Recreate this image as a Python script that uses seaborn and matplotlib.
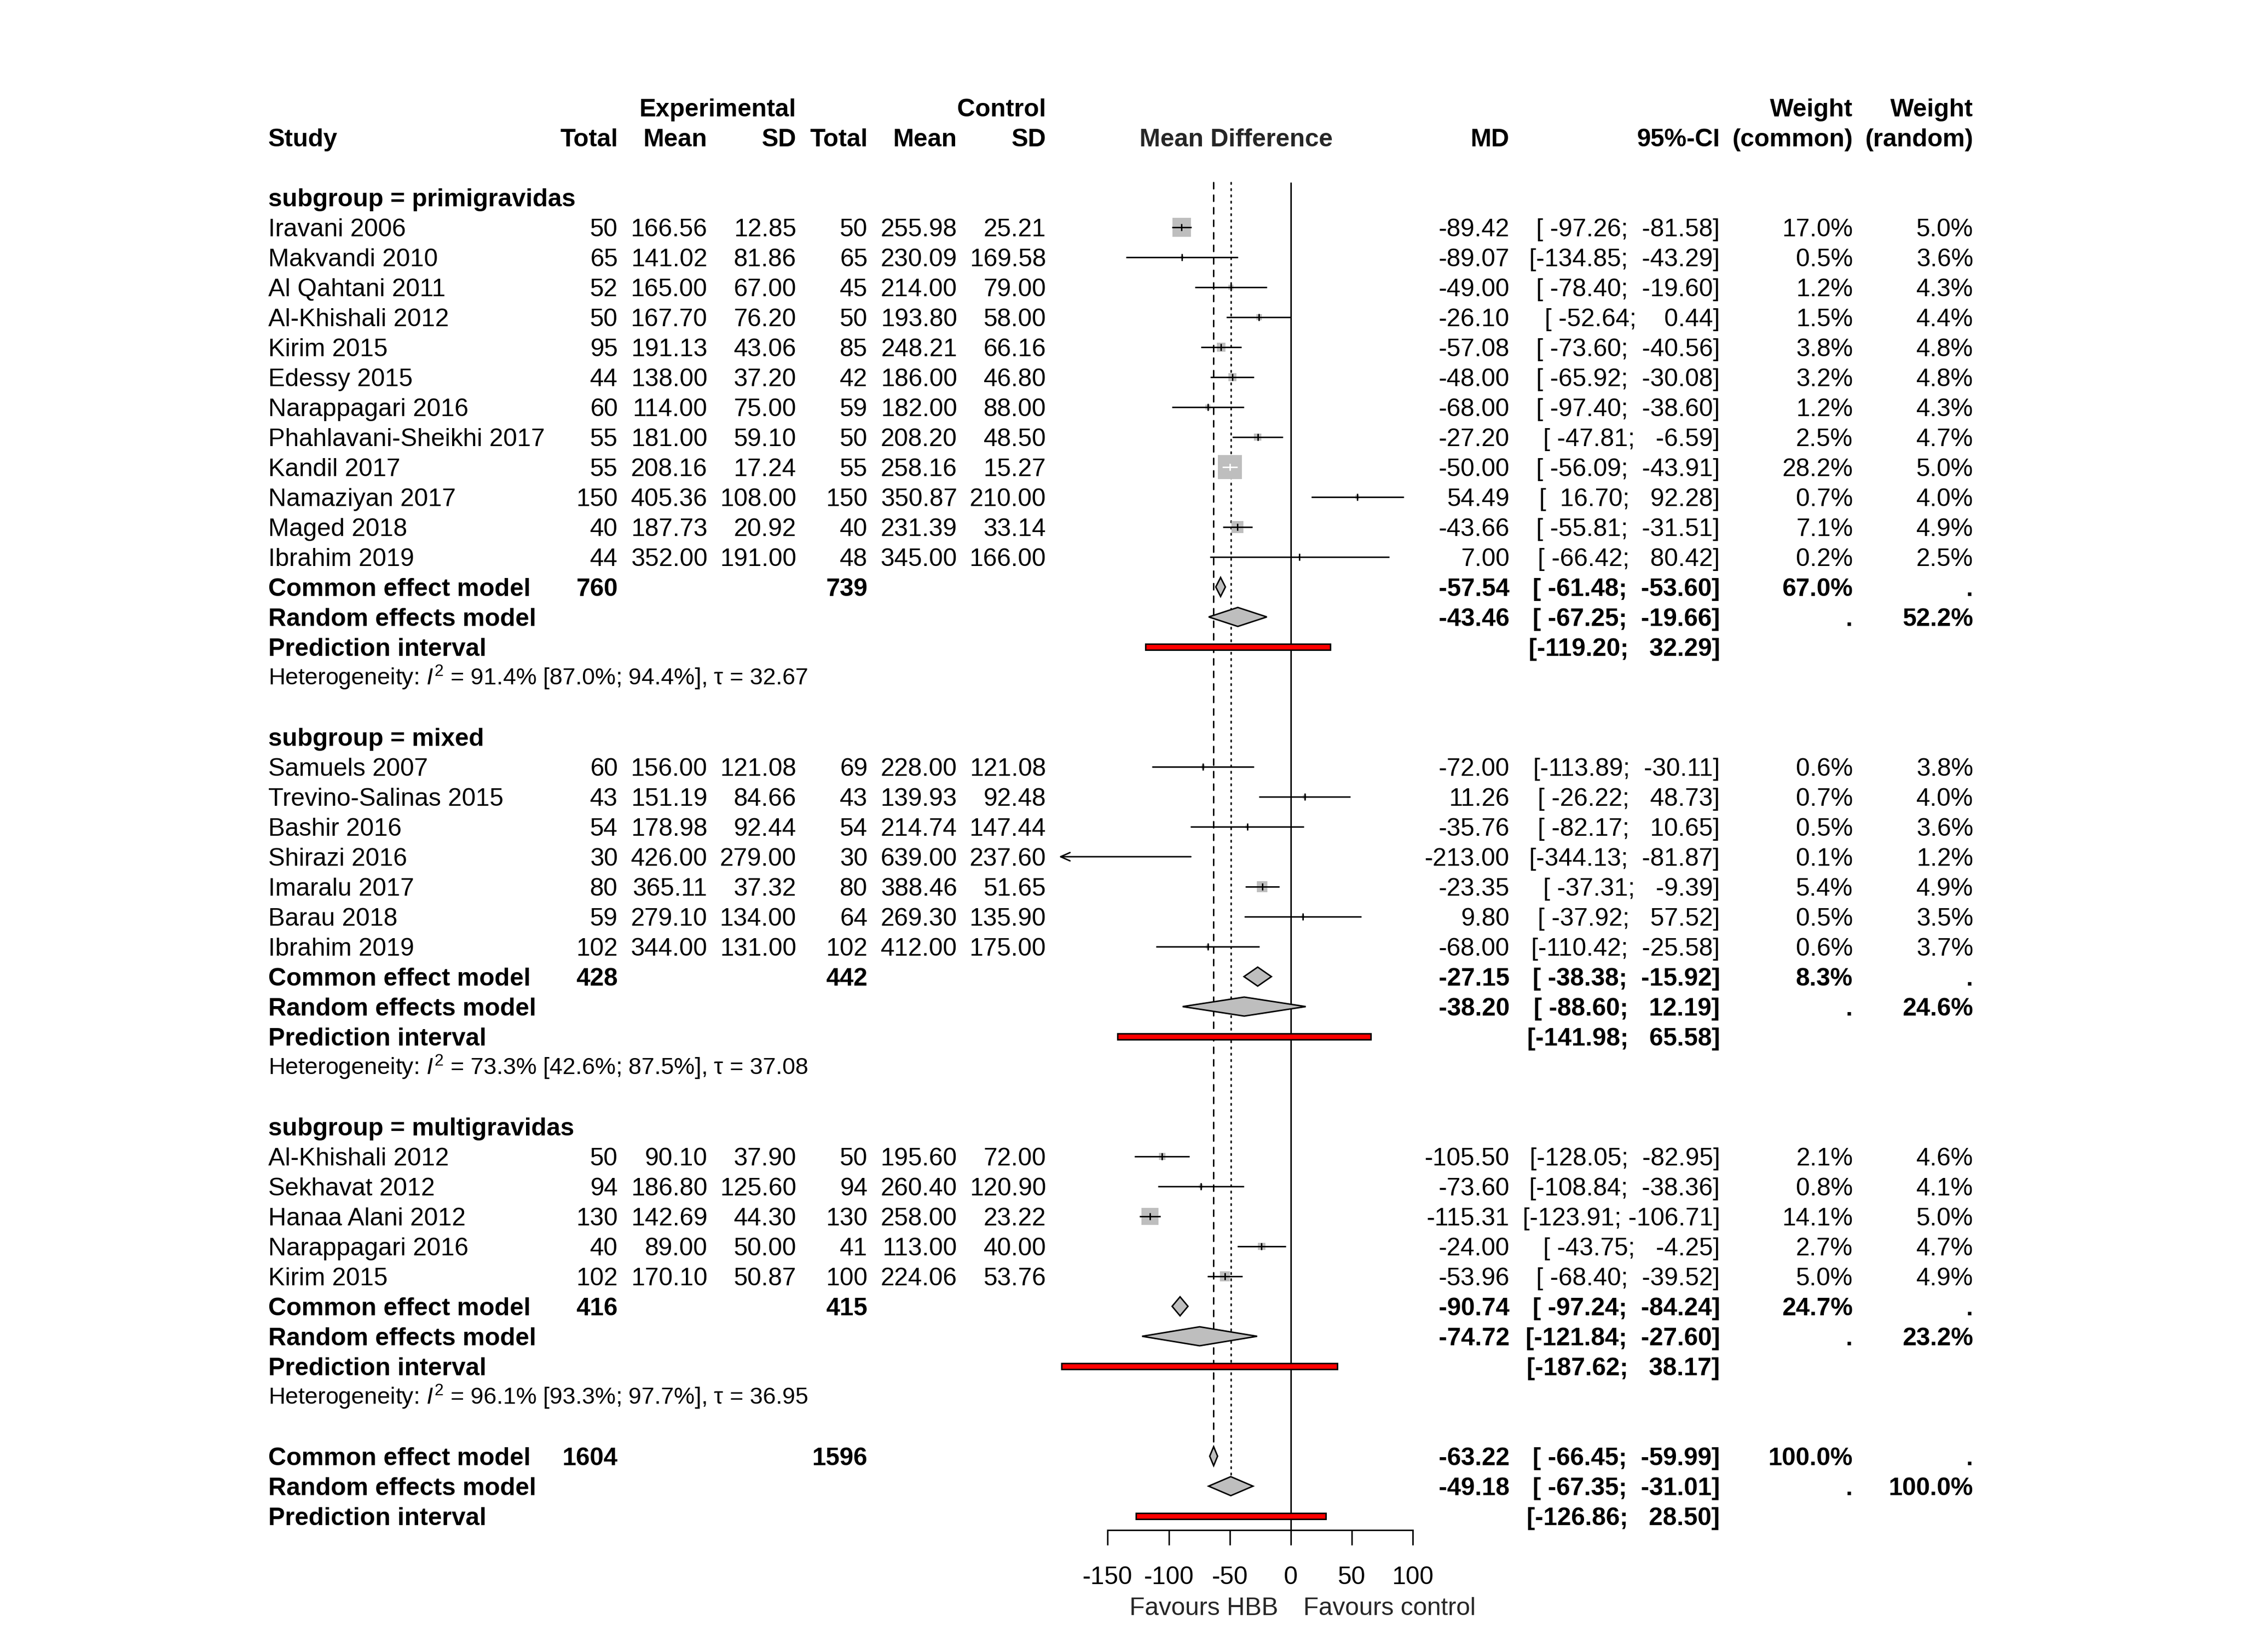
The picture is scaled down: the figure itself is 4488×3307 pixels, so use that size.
import numpy as np
import matplotlib
matplotlib.use("Agg")
import matplotlib.pyplot as plt
from matplotlib.patches import Polygon, Rectangle
import seaborn as sns

# ---- study level data (plotting order) ----
study = ["Iravani 2006", "Makvandi 2010", "Al Qahtani 2011", "Al-Khishali 2012", "Kirim 2015",
         "Edessy 2015", "Narappagari 2016", "Phahlavani-Sheikhi 2017", "Kandil 2017",
         "Namaziyan 2017", "Maged 2018", "Ibrahim 2019",
         "Samuels 2007", "Trevino-Salinas 2015", "Bashir 2016", "Shirazi 2016", "Imaralu 2017",
         "Barau 2018", "Ibrahim 2019",
         "Al-Khishali 2012", "Sekhavat 2012", "Hanaa Alani 2012", "Narappagari 2016", "Kirim 2015"]
subgroup = ["primigravidas", "primigravidas", "primigravidas", "primigravidas", "primigravidas",
            "primigravidas", "primigravidas", "primigravidas", "primigravidas", "primigravidas",
            "primigravidas", "primigravidas",
            "mixed", "mixed", "mixed", "mixed", "mixed", "mixed", "mixed",
            "multigravidas", "multigravidas", "multigravidas", "multigravidas", "multigravidas"]
n_e = [50, 65, 52, 50, 95, 44, 60, 55, 55, 150, 40, 44,
       60, 43, 54, 30, 80, 59, 102,
       50, 94, 130, 40, 102]
mean_e = [166.56, 141.02, 165.00, 167.70, 191.13, 138.00, 114.00, 181.00, 208.16, 405.36, 187.73, 352.00,
          156.00, 151.19, 178.98, 426.00, 365.11, 279.10, 344.00,
          90.10, 186.80, 142.69, 89.00, 170.10]
sd_e = [12.85, 81.86, 67.00, 76.20, 43.06, 37.20, 75.00, 59.10, 17.24, 108.00, 20.92, 191.00,
        121.08, 84.66, 92.44, 279.00, 37.32, 134.00, 131.00,
        37.90, 125.60, 44.30, 50.00, 50.87]
n_c = [50, 65, 45, 50, 85, 42, 59, 50, 55, 150, 40, 48,
       69, 43, 54, 30, 80, 64, 102,
       50, 94, 130, 41, 100]
mean_c = [255.98, 230.09, 214.00, 193.80, 248.21, 186.00, 182.00, 208.20, 258.16, 350.87, 231.39, 345.00,
          228.00, 139.93, 214.74, 639.00, 388.46, 269.30, 412.00,
          195.60, 260.40, 258.00, 113.00, 224.06]
sd_c = [25.21, 169.58, 79.00, 58.00, 66.16, 46.80, 88.00, 48.50, 15.27, 210.00, 33.14, 166.00,
        121.08, 92.48, 147.44, 237.60, 51.65, 135.90, 175.00,
        72.00, 120.90, 23.22, 40.00, 53.76]
md = [-89.42, -89.07, -49.00, -26.10, -57.08, -48.00, -68.00, -27.20, -50.00, 54.49, -43.66, 7.00,
      -72.00, 11.26, -35.76, -213.00, -23.35, 9.80, -68.00,
      -105.50, -73.60, -115.31, -24.00, -53.96]
ci_lo = [-97.26, -134.85, -78.40, -52.64, -73.60, -65.92, -97.40, -47.81, -56.09, 16.70, -55.81, -66.42,
         -113.89, -26.22, -82.17, -344.13, -37.31, -37.92, -110.42,
         -128.05, -108.84, -123.91, -43.75, -68.40]
ci_hi = [-81.58, -43.29, -19.60, 0.44, -40.56, -30.08, -38.60, -6.59, -43.91, 92.28, -31.51, 80.42,
         -30.11, 48.73, 10.65, -81.87, -9.39, 57.52, -25.58,
         -82.95, -38.36, -106.71, -4.25, -39.52]
w_common = [17.0, 0.5, 1.2, 1.5, 3.8, 3.2, 1.2, 2.5, 28.2, 0.7, 7.1, 0.2,
            0.6, 0.7, 0.5, 0.1, 5.4, 0.5, 0.6,
            2.1, 0.8, 14.1, 2.7, 5.0]
w_random = [5.0, 3.6, 4.3, 4.4, 4.8, 4.8, 4.3, 4.7, 5.0, 4.0, 4.9, 2.5,
            3.8, 4.0, 3.6, 1.2, 4.9, 3.5, 3.7,
            4.6, 4.1, 5.0, 4.7, 4.9]

# ---- subgroup summaries ----
groups = ["primigravidas", "mixed", "multigravidas"]
grp_n_e = [760, 428, 416]
grp_n_c = [739, 442, 415]
grp_common = [-57.54, -27.15, -90.74]
grp_common_lo = [-61.48, -38.38, -97.24]
grp_common_hi = [-53.60, -15.92, -84.24]
grp_random = [-43.46, -38.20, -74.72]
grp_random_lo = [-67.25, -88.60, -121.84]
grp_random_hi = [-19.66, 12.19, -27.60]
grp_pi_lo = [-119.20, -141.98, -187.62]
grp_pi_hi = [32.29, 65.58, 38.17]
grp_w_common = [67.0, 8.3, 24.7]
grp_w_random = [52.2, 24.6, 23.2]
het_i2 = [91.4, 73.3, 96.1]
het_i2_lo = [87.0, 42.6, 93.3]
het_i2_hi = [94.4, 87.5, 97.7]
het_tau = [32.67, 37.08, 36.95]

# ---- overall ----
overall_n = [1604, 1596]
overall_common = [-63.22, -66.45, -59.99]
overall_random = [-49.18, -67.35, -31.01]
overall_pi = [-126.86, 28.50]

xticks = [-150, -100, -50, 0, 50, 100]
label_left = "Favours HBB"
label_right = "Favours control"

# ---- styling ----
sns.set_style("white")
plt.rcParams['font.family'] = ['Liberation Sans', 'DejaVu Sans']
plt.rcParams['mathtext.fontset'] = 'custom'
plt.rcParams['mathtext.rm'] = 'Liberation Sans'
plt.rcParams['mathtext.it'] = 'Liberation Sans:italic'
plt.rcParams['axes.unicode_minus'] = False

W, H, DPI = 4488, 3307, 300
ROW0, ROWH = 275, 60.0          # pixel y of header row, row height
FS = 12
FS_HET = 11.2
BASE = 0.3                       # baseline offset (rows) to center digits on the row
LW = 0.7
GRAY = "#bebebe"
XMIN, XMAX = -190, 100
FX_LEFT, FX_RIGHT = 2119.6, 2828.4

# column anchors (pixels)
X_STUDY = 537
X_NE, X_ME, X_SE = 1237, 1416, 1594
X_NC, X_MC, X_SC = 1737, 1916, 2094
X_MD, X_CI, X_WC, X_WR = 3022, 3443, 3709, 3950

fig = plt.figure(figsize=(W / DPI, H / DPI), dpi=DPI)
ylim = ((H - ROW0) / ROWH, -ROW0 / ROWH)
tax = fig.add_axes([0, 0, 1, 1])
tax.set_xlim(0, W)
tax.set_ylim(*ylim)
tax.axis("off")

fax = fig.add_axes([FX_LEFT / W, 0, (FX_RIGHT - FX_LEFT) / W, 1])
fax.set_xlim(XMIN, XMAX)
fax.set_ylim(*ylim)
fax.patch.set_alpha(0)
px_per_unit = (FX_RIGHT - FX_LEFT) / (XMAX - XMIN)


def put(x, r, s, ha="right", bold=False, size=FS):
    tax.text(x, r + BASE * size / FS, s, ha=ha, va="baseline", fontsize=size,
             fontweight="bold" if bold else "normal", color="black")


def fmt_ci(lo, hi):
    return f"[{lo:7.2f}; {hi:7.2f}]"


def diamond(est, lo, hi, r):
    h = 0.317
    fax.add_patch(Polygon([(lo, r), (est, r - h), (hi, r), (est, r + h)], closed=True,
                          facecolor=GRAY, edgecolor="black", lw=LW, zorder=4))


def pred_bar(lo, hi, r):
    fax.add_patch(Rectangle((lo, r - 0.095), hi - lo, 0.19, facecolor="red",
                            edgecolor="black", lw=LW, zorder=4))


# ---- header ----
put(X_SE, -1, "Experimental", bold=True)
put(X_SC, -1, "Control", bold=True)
put(X_WC, -1, "Weight", bold=True)
put(X_WR, -1, "Weight", bold=True)
put(X_STUDY, 0, "Study", ha="left", bold=True)
for x, s in [(X_NE, "Total"), (X_ME, "Mean"), (X_SE, "SD"), (X_NC, "Total"), (X_MC, "Mean"),
             (X_SC, "SD"), (X_MD, "MD"), (X_CI, "95%-CI"), (X_WC, "(common)"), (X_WR, "(random)")]:
    put(x, 0, s, bold=True)
fax.text((XMIN + XMAX) / 2, BASE, "Mean Difference", ha="center", va="baseline",
         fontsize=FS, fontweight="bold")

# ---- rows ----
sub_arr = np.array(subgroup)
wmax = max(w_common)
row = 2
study_rows = []
for g, name in enumerate(groups):
    put(X_STUDY, row, f"subgroup = {name}", ha="left", bold=True)
    row += 1
    for i in np.where(sub_arr == name)[0]:
        put(X_STUDY, row, study[i], ha="left")
        put(X_NE, row, f"{n_e[i]}")
        put(X_ME, row, f"{mean_e[i]:.2f}")
        put(X_SE, row, f"{sd_e[i]:.2f}")
        put(X_NC, row, f"{n_c[i]}")
        put(X_MC, row, f"{mean_c[i]:.2f}")
        put(X_SC, row, f"{sd_c[i]:.2f}")
        put(X_MD, row, f"{md[i]:.2f}")
        put(X_CI, row, fmt_ci(ci_lo[i], ci_hi[i]))
        put(X_WC, row, f"{w_common[i]:.1f}%")
        put(X_WR, row, f"{w_random[i]:.1f}%")
        study_rows.append(row)
        row += 1
    # common effect
    put(X_STUDY, row, "Common effect model", ha="left", bold=True)
    put(X_NE, row, f"{grp_n_e[g]}", bold=True)
    put(X_NC, row, f"{grp_n_c[g]}", bold=True)
    put(X_MD, row, f"{grp_common[g]:.2f}", bold=True)
    put(X_CI, row, fmt_ci(grp_common_lo[g], grp_common_hi[g]), bold=True)
    put(X_WC, row, f"{grp_w_common[g]:.1f}%", bold=True)
    put(X_WR, row, ".", bold=True)
    diamond(grp_common[g], grp_common_lo[g], grp_common_hi[g], row)
    row += 1
    # random effects
    put(X_STUDY, row, "Random effects model", ha="left", bold=True)
    put(X_MD, row, f"{grp_random[g]:.2f}", bold=True)
    put(X_CI, row, fmt_ci(grp_random_lo[g], grp_random_hi[g]), bold=True)
    put(X_WC, row, ".", bold=True)
    put(X_WR, row, f"{grp_w_random[g]:.1f}%", bold=True)
    diamond(grp_random[g], grp_random_lo[g], grp_random_hi[g], row)
    row += 1
    # prediction interval
    put(X_STUDY, row, "Prediction interval", ha="left", bold=True)
    put(X_CI, row, fmt_ci(grp_pi_lo[g], grp_pi_hi[g]), bold=True)
    pred_bar(grp_pi_lo[g], grp_pi_hi[g], row)
    row += 1
    het = (f"Heterogeneity: $\\mathit{{I}}^{{2}}$ = {het_i2[g]:.1f}% "
           f"[{het_i2_lo[g]:.1f}%; {het_i2_hi[g]:.1f}%], \u03c4 = {het_tau[g]:.2f}")
    put(X_STUDY, row, het, ha="left", size=FS_HET)
    row += 2

# overall
r_oc = row
put(X_STUDY, row, "Common effect model", ha="left", bold=True)
put(X_NE, row, f"{overall_n[0]}", bold=True)
put(X_NC, row, f"{overall_n[1]}", bold=True)
put(X_MD, row, f"{overall_common[0]:.2f}", bold=True)
put(X_CI, row, fmt_ci(overall_common[1], overall_common[2]), bold=True)
put(X_WC, row, "100.0%", bold=True)
put(X_WR, row, ".", bold=True)
diamond(overall_common[0], overall_common[1], overall_common[2], row)
row += 1
r_or = row
put(X_STUDY, row, "Random effects model", ha="left", bold=True)
put(X_MD, row, f"{overall_random[0]:.2f}", bold=True)
put(X_CI, row, fmt_ci(overall_random[1], overall_random[2]), bold=True)
put(X_WC, row, ".", bold=True)
put(X_WR, row, "100.0%", bold=True)
diamond(overall_random[0], overall_random[1], overall_random[2], row)
row += 1
put(X_STUDY, row, "Prediction interval", ha="left", bold=True)
put(X_CI, row, fmt_ci(overall_pi[0], overall_pi[1]), bold=True)
pred_bar(overall_pi[0], overall_pi[1], row)
axis_row = row + 0.47

# ---- study squares, CI lines ----
md_a = np.array(md)
lo_a = np.array(ci_lo)
hi_a = np.array(ci_hi)
rows_a = np.array(study_rows, dtype=float)
side_px = 48 * np.sqrt(np.array(w_common) / wmax)
side_pt = side_px * 72 / DPI
inside = (md_a > XMIN)
sns.scatterplot(x=md_a[inside], y=rows_a[inside], s=side_pt[inside] ** 2, marker="s",
                color=GRAY, edgecolor="none", linewidth=0, legend=False, ax=fax, zorder=3)

half_units = side_px / 2 / px_per_unit
for i, r in enumerate(rows_a):
    col = "white" if (lo_a[i] > md_a[i] - half_units[i] and hi_a[i] < md_a[i] + half_units[i]) else "black"
    if lo_a[i] < XMIN:
        fax.annotate("", xy=(XMIN, r), xytext=(hi_a[i], r), zorder=4,
                     arrowprops=dict(arrowstyle="->,head_length=0.45,head_width=0.2",
                                     lw=LW, color="black", shrinkA=0, shrinkB=0,
                                     mutation_scale=10))
    else:
        fax.hlines(r, lo_a[i], hi_a[i], color=col, lw=LW, zorder=4)
    if XMIN < md_a[i] < XMAX:
        fax.vlines(md_a[i], r - 0.11, r + 0.11, color=col, lw=LW, zorder=4)

# ---- reference lines ----
fax.vlines(0, 1.5, axis_row, color="black", lw=LW, zorder=1)
fax.plot([overall_common[0], overall_common[0]], [1.5, r_oc - 0.317], color="black",
         lw=LW, dashes=(4.3, 4.3), dash_capstyle="round", zorder=1)
fax.plot([overall_random[0], overall_random[0]], [1.5, r_or - 0.317], color="black",
         lw=LW, dashes=(1.1, 3.2), dash_capstyle="round", zorder=1)

# ---- x axis ----
for s in ["left", "right", "top"]:
    fax.spines[s].set_visible(False)
fax.spines["bottom"].set_position(("data", axis_row))
fax.spines["bottom"].set_bounds(xticks[0], xticks[-1])
fax.spines["bottom"].set_linewidth(LW)
fax.spines["bottom"].set_color("black")
fax.set_xticks(xticks)
fax.set_yticks([])
fax.tick_params(axis="x", direction="out", length=7.2, width=LW, pad=10, labelsize=FS,
                colors="black", bottom=True)
fax.annotate(label_left, xy=(0, row + 3 + BASE), xytext=(-6, 0), textcoords="offset points",
             ha="right", va="baseline", fontsize=FS)
fax.annotate(label_right, xy=(0, row + 3 + BASE), xytext=(6, 0), textcoords="offset points",
             ha="left", va="baseline", fontsize=FS)

fig.savefig("out.png", dpi=DPI)
